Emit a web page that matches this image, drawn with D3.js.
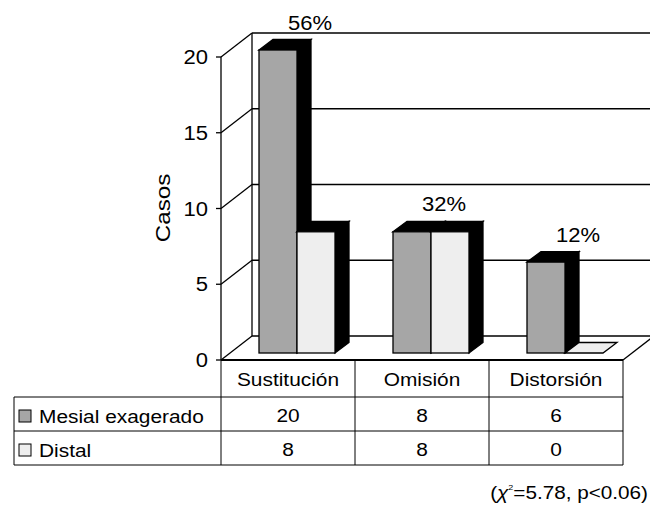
<!DOCTYPE html>
<html>
<head>
<meta charset="utf-8">
<script src="https://cdn.jsdelivr.net/npm/d3@7"></script>
<style>
  body { margin: 0; background: #fff; }
  text { font-family: "Liberation Sans", Arial, sans-serif; fill: #000; }
</style>
</head>
<body>
<div id="wrapper"></div>
<script>
const categories = ["Sustitución", "Omisión", "Distorsión"];
const seriesNames = ["Mesial exagerado", "Distal"];
const mesial = [20, 8, 6];
const distal = [8, 8, 0];
const percentLabels = ["56%", "32%", "12%"];
const yTicks = [0, 5, 10, 15, 20];
const note = "=5.78, p<0.06)";

const seriesColors = ["#a6a6a6", "#eeeeee"];
const values = [mesial, distal];

const dims = { width: 650, height: 508 };
const wall = { dx: 31, dy: -24 };       // depth of the 3D box
const barOff = { dx: 9, dy: -7 };       // bar front face set back into box
const barDepth = { dx: 14, dy: -10.5 };
const stretch = 1.13;                    // text in the source is a bit wide

const svg = d3.select("#wrapper")
  .append("svg")
  .attr("width", dims.width)
  .attr("height", dims.height);

const xScale = d3.scaleBand()
  .domain(categories)
  .range([221, 623]);

const inner = d3.scaleBand()
  .domain(seriesNames)
  .range([29, 105]);

const yScale = d3.scaleLinear()
  .domain([0, 20])
  .range([360, 57]);

function txt(g, x, y, s, anchor, size) {
  return g.append("text")
    .attr("transform", `translate(${x},${y}) scale(${stretch},1)`)
    .attr("text-anchor", anchor)
    .style("font-size", size + "px")
    .text(s);
}

const lineW = 1.3;
const box = svg.append("g").attr("stroke", "#000").attr("stroke-width", lineW).attr("fill", "none");

const x0 = xScale.range()[0], x1 = xScale.range()[1];

// back wall gridlines + diagonals
yTicks.forEach(t => {
  const y = yScale(t);
  if (t > 0) {
    box.append("line")
      .attr("x1", x0 + wall.dx).attr("x2", x1 + wall.dx)
      .attr("y1", y + wall.dy).attr("y2", y + wall.dy);
  }
  box.append("line")
    .attr("x1", x0).attr("y1", y)
    .attr("x2", x0 + wall.dx).attr("y2", y + wall.dy);
  // tick mark
  box.append("line")
    .attr("x1", x0 - 5).attr("x2", x0)
    .attr("y1", y).attr("y2", y);
});

// back wall left edge and floor back line
box.append("line")
  .attr("x1", x0 + wall.dx).attr("x2", x0 + wall.dx)
  .attr("y1", yScale(20) + wall.dy).attr("y2", yScale(0) + wall.dy);
box.append("line")
  .attr("x1", x0 + wall.dx).attr("x2", x1 + wall.dx)
  .attr("y1", yScale(0) + wall.dy).attr("y2", yScale(0) + wall.dy);
box.append("line")
  .attr("x1", x1).attr("y1", yScale(0))
  .attr("x2", x1 + wall.dx).attr("y2", yScale(0) + wall.dy);

// front y axis
box.append("line")
  .attr("x1", x0).attr("x2", x0)
  .attr("y1", yScale(20)).attr("y2", yScale(0));

// bars
const bars = svg.append("g").attr("stroke", "#000").attr("stroke-width", lineW);
categories.forEach((c, ci) => {
  seriesNames.forEach((s, si) => {
    const v = values[si][ci];
    const bx0 = xScale(c) + inner(s) + barOff.dx;
    const bx1 = bx0 + inner.bandwidth();
    const yb = yScale(0) + barOff.dy;
    const yt = yScale(v) + barOff.dy;
    const dx = barDepth.dx, dy = barDepth.dy;
    const topFill = v === 0 ? seriesColors[si] : "#000";
    bars.append("polygon")
      .attr("points", [[bx0, yt], [bx0 + dx, yt + dy], [bx1 + dx, yt + dy], [bx1, yt]].join(" "))
      .attr("fill", topFill);
    if (v > 0) {
      bars.append("polygon")
        .attr("points", [[bx1, yt], [bx1 + dx, yt + dy], [bx1 + dx, yb + dy], [bx1, yb]].join(" "))
        .attr("fill", "#000");
      bars.append("rect")
        .attr("x", bx0).attr("y", yt)
        .attr("width", bx1 - bx0).attr("height", yb - yt)
        .attr("fill", seriesColors[si]);
    }
  });
});

// percent labels
const labels = svg.append("g");
categories.forEach((c, ci) => {
  const top = d3.max(values, arr => arr[ci]);
  const y = yScale(top) + barOff.dy + barDepth.dy - 10;
  txt(labels, xScale(c) + xScale.bandwidth() / 2 + 22, y, percentLabels[ci], "middle", 19.5);
});

// y axis tick labels
const axisG = svg.append("g");
yTicks.forEach(t => {
  txt(axisG, x0 - 13, yScale(t) + 7, t, "end", 19.5);
});

// y axis title
axisG.append("text")
  .attr("transform", `translate(170,208) rotate(-90) scale(1.15,1)`)
  .attr("text-anchor", "middle")
  .style("font-size", "21px")
  .text("Casos");

// data table
const rowY = [360, 397, 431, 465];
const table = svg.append("g").attr("stroke", "#000").attr("stroke-width", 1);
table.append("line")
  .attr("x1", x0).attr("x2", x1)
  .attr("y1", rowY[0]).attr("y2", rowY[0])
  .attr("stroke-width", 2);
[rowY[1], rowY[2], rowY[3]].forEach(y => {
  table.append("line").attr("x1", 14).attr("x2", x1).attr("y1", y).attr("y2", y);
});
table.append("line").attr("x1", 14).attr("x2", 14).attr("y1", rowY[1]).attr("y2", rowY[3]);
categories.forEach(c => {
  table.append("line").attr("x1", xScale(c)).attr("x2", xScale(c)).attr("y1", rowY[0]).attr("y2", rowY[3]);
});
table.append("line").attr("x1", x1).attr("x2", x1).attr("y1", rowY[0]).attr("y2", rowY[3]);

const tText = svg.append("g");
categories.forEach((c, ci) => {
  const cx = xScale(c) + xScale.bandwidth() / 2;
  txt(tText, cx, rowY[0] + 26, c, "middle", 18.5);
  seriesNames.forEach((s, si) => {
    txt(tText, cx, rowY[si + 1] + 25, values[si][ci], "middle", 18.5);
  });
});
seriesNames.forEach((s, si) => {
  const y = rowY[si + 1];
  tText.append("rect")
    .attr("x", 19).attr("y", y + 13)
    .attr("width", 12).attr("height", 12)
    .attr("fill", seriesColors[si])
    .attr("stroke", "#000").attr("stroke-width", 1);
  txt(tText, 39, y + 26, s, "start", 18.5);
});

// chi-square note
const noteText = svg.append("text")
  .attr("transform", `translate(648,499) scale(1.12,1)`)
  .attr("text-anchor", "end")
  .style("font-size", "18.5px");
noteText.append("tspan").text("(");
noteText.append("tspan").style("font-style", "italic").text("χ");
noteText.append("tspan").attr("dy", -9).style("font-size", "8px").text("2");
noteText.append("tspan").attr("dy", 9).text(note);
</script>
</body>
</html>
